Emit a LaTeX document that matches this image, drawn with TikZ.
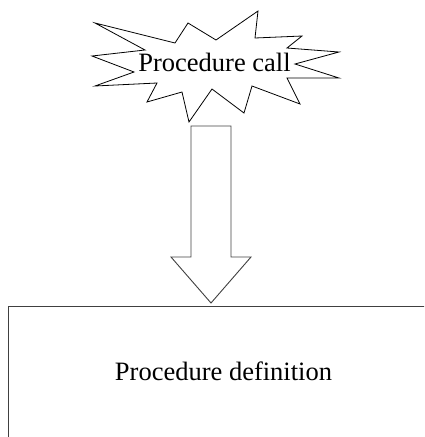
\documentclass[tikz,border=0pt]{standalone}
\usepackage{fontspec}
\setmainfont{Liberation Serif}
\usetikzlibrary{positioning,calc}
\tikzset{
  lbl/.style={font=\fontsize{26.5}{30}\selectfont, inner sep=0pt},
  outl/.style={draw, line width=0.8pt, line join=miter},
  frame/.style={draw=black!75, line width=1pt}
}

\begin{document}
\begin{tikzpicture}[x=1pt, y=-1pt]
\useasboundingbox (0,0) rectangle (424,437);
\clip (0,0) rectangle (424,437);
% the call, inside a burst
\node[lbl, anchor=base] (call) at (214.5,71.5) {Procedure call};
\draw[outl] (95,23) -- (175,43) -- (188,23) -- (216,40) -- (258,11) -- (255,38)
  -- (302,36) -- (287,48) -- (339,52) -- (295,64) -- (339,78) -- (287,78)
  -- (300,104) -- (252,86) -- (244,113) -- (212,89) -- (189,122) -- (182,92)
  -- (147,102) -- (157,83) -- (95,86) -- (134,72) -- (92,56) -- (145,50) -- cycle;
% the definition, box runs off the page
\node[frame, anchor=north west, minimum width=460pt, minimum height=200pt] (defbox) at (8,306) {};
\node[lbl, anchor=base] (defn) at (223.5,380) {Procedure definition};
% block arrow from call to definition
\coordinate (tail) at (211,126);
\coordinate (tip) at (211,303);
\draw[frame, line width=0.9pt] ($(tail)+(-20,0)$) -- ($(tail)+(20,0)$) -- ($(tip)+(20,-46)$) -- ($(tip)+(40,-46)$)
  -- (tip) -- ($(tip)+(-40,-46)$) -- ($(tip)+(-20,-46)$) -- cycle;
\end{tikzpicture}
\end{document}
